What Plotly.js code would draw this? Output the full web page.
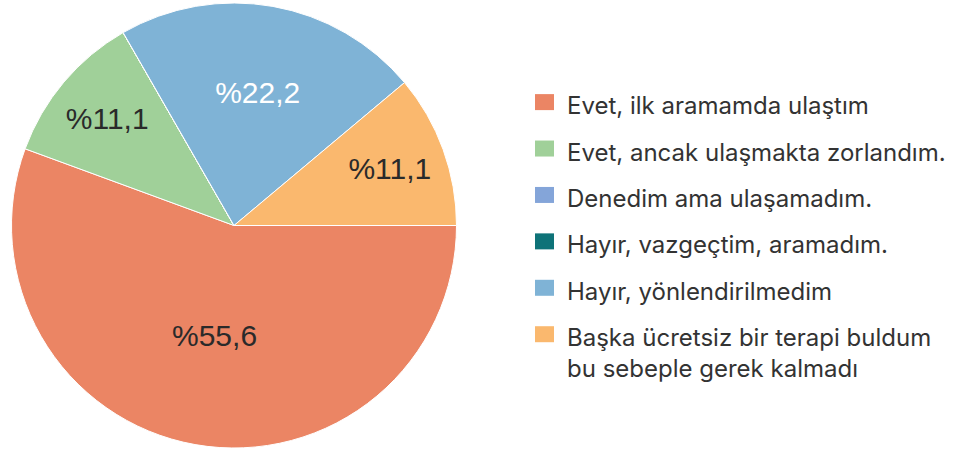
<!DOCTYPE html>
<html><head><meta charset="utf-8">
<script src="https://cdn.plot.ly/plotly-3.0.1.min.js"></script>
<style>
html,body{margin:0;padding:0;background:#fff}#c{width:967px;height:450px}
#c .legend .legendtext tspan{font-size:24px !important;}
</style>
</head><body><div id="c"></div>
<script>
const labels = [
  "Evet, ilk aramamda ulaştım",
  "Evet, ancak ulaşmakta zorlandım.",
  "Denedim ama ulaşamadım.",
  "Hayır, vazgeçtim, aramadım.",
  "Hayır, yönlendirilmedim",
  "Başka ücretsiz bir terapi buldum<br>bu sebeple gerek kalmadı"
];
const values = [55.6, 11.1, 0, 0, 22.2, 11.1];
const colors = ["#EB8564", "#A0D099", "#84A5D9", "#0E7378", "#7FB3D6", "#FAB86E"];
const textColors = ["#2a2a2a", "#2a2a2a", "#2a2a2a", "#2a2a2a", "#ffffff", "#2a2a2a"];
const texts = values.map(v => v > 0 ? "%" + v.toFixed(1).replace(".", ",") : "");
const legendLabels = labels.map(l => l.split("<br>").map(s => '<span style="font-size:24px">' + s + '</span>').join("<br>"));

Plotly.newPlot("c", [{
  type: "pie",
  labels: legendLabels,
  values: values,
  text: texts,
  textinfo: "text",
  textposition: "inside",
  insidetextorientation: "horizontal",
  sort: false,
  direction: "clockwise",
  rotation: 90,
  marker: {colors: colors, line: {color: "#ffffff", width: 1}},
  textfont: {family: "Liberation Sans, Arial, sans-serif", size: 30, color: textColors},
  domain: {x: [11/967, 457/967], y: [2/450, 447/450]},
  hoverinfo: "percent"
}], {
  width: 967, height: 450,
  margin: {l: 0, r: 0, t: 0, b: 0},
  paper_bgcolor: "#ffffff",
  showlegend: true,
  legend: {
    x: 0.545, y: 0.838, xanchor: "left", yanchor: "top",
    font: {family: "Inter, Open Sans, sans-serif", size: 33.4, color: "#333333"},
    valign: "top",
    traceorder: "normal"
  }
}, {displayModeBar: false}).then(function () {
  document.querySelectorAll("#c .legend .legendpoints path").forEach(function (p) {
    p.setAttribute("d", "M7,9H-12V-7H7Z");
    p.style.strokeWidth = "0px";
  });
});
</script></body></html>
